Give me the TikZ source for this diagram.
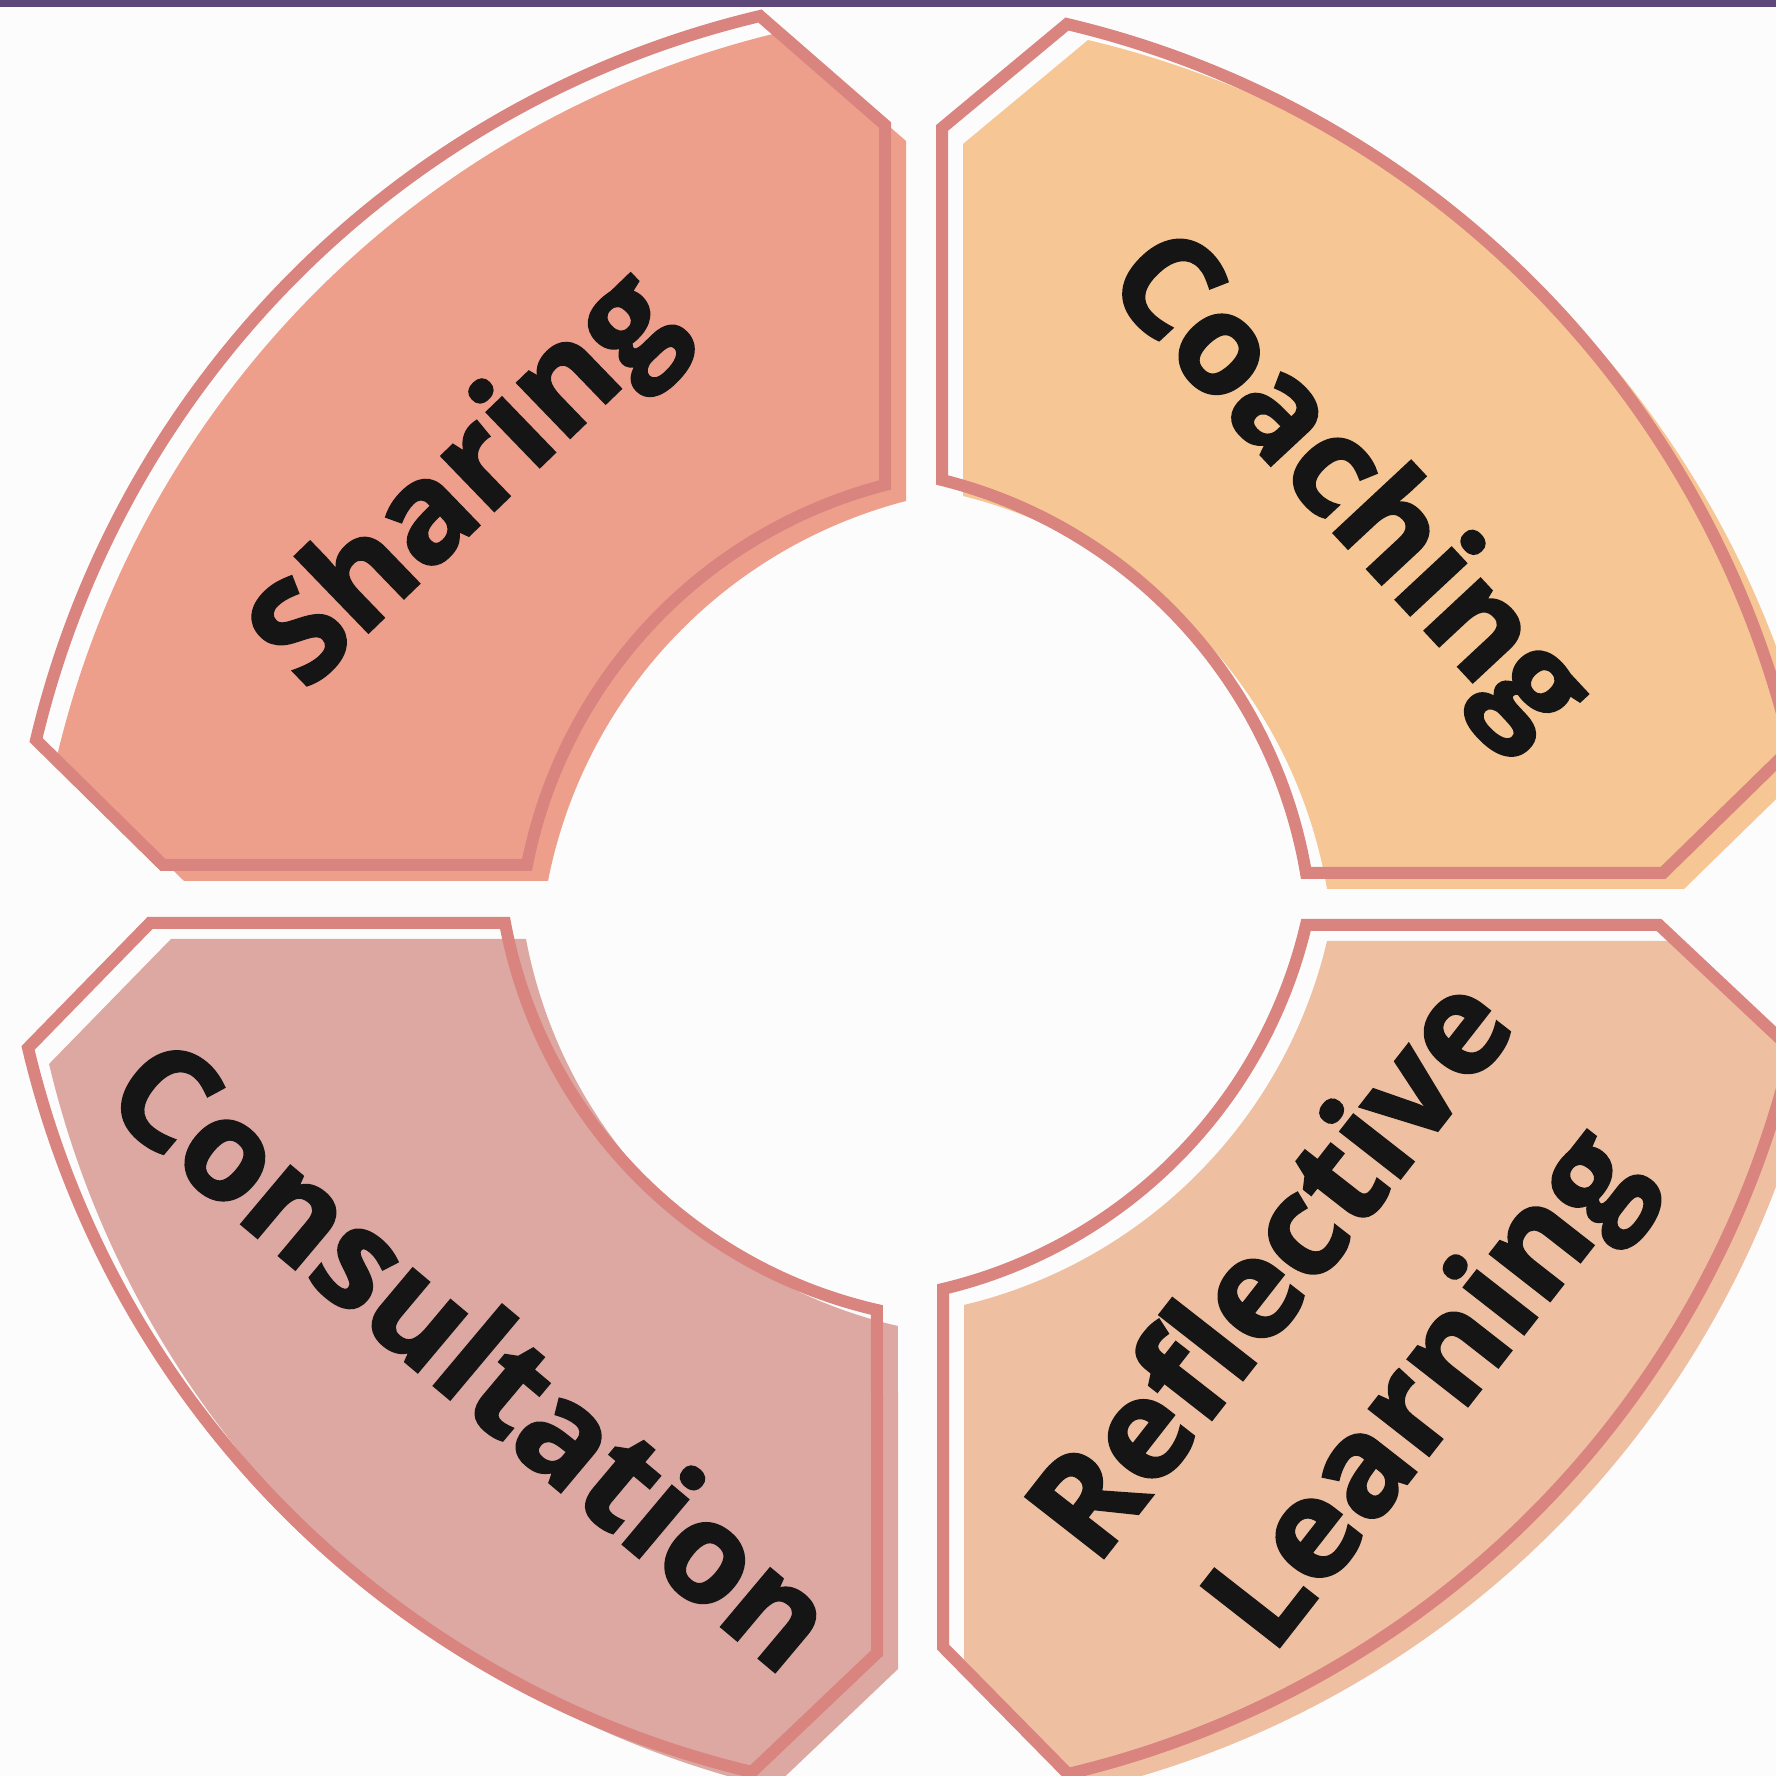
\documentclass[tikz,border=0pt]{standalone}
\usepackage{fontspec}
\setmainfont{Open Sans}[BoldFeatures={FakeBold=2}]
\definecolor{bgcol}{HTML}{FCFCFC}
\definecolor{barcol}{HTML}{5E4779}
\definecolor{strokecol}{HTML}{D9847F}
\definecolor{sharefill}{HTML}{EE9F8C}
\definecolor{coachfill}{HTML}{F6C695}
\definecolor{consfill}{HTML}{DCA8A1}
\definecolor{reflfill}{HTML}{EFBFA1}
\definecolor{textcol}{HTML}{151515}
\newcommand\segR{4.9}
% local outline of one segment: #1 inner a, #2 inner b, #3 edge a, #4 edge b
\newcommand\segpath[4]{%
  (0,#4) -- ([shift={(-1,-1)}]76.66:9.753)
  arc[start angle=76.66, end angle=13.34, radius=9.753]
  -- (#3,0) -- (#1,0)
  arc[start angle=\segsa, end angle=\segea, radius=\segR]
  -- cycle}
% #1 Ox, #2 Oy, #3 sx, #4 sy, #5 h, #6 v, #7 La, #8 Lb, #9 fill colour
\newcommand\segment[9]{%
  \pgfmathsetmacro\segcc{sqrt((#5)^2+(#6)^2)}%
  \pgfmathsetmacro\segmm{sqrt(\segR^2-(\segcc/2)^2)}%
  \pgfmathsetmacro\segcx{#5/2-\segmm*#6/\segcc}%
  \pgfmathsetmacro\segcy{#6/2-\segmm*#5/\segcc}%
  \pgfmathsetmacro\segsa{atan2(0-\segcy,#5-\segcx)}%
  \pgfmathsetmacro\segea{atan2(#6-\segcy,0-\segcx)}%
  \begin{scope}[shift={(#1+0.21,#2-0.16)}, xscale=#3, yscale=#4]
    \fill[#9] \segpath{#5}{#6}{#7}{#8};
  \end{scope}
  \begin{scope}[shift={(#1,#2)}, xscale=#3, yscale=#4]
    \draw[segline] \segpath{#5}{#6}{#7}{#8};
  \end{scope}}
\begin{document}
\begin{tikzpicture}[
  segline/.style={draw=strokecol, line width=0.12cm, line join=miter},
  lbl/.style={text=textcol, inner sep=0pt, align=center,
              font=\fontsize{39.5}{55}\selectfont\bfseries}]
\useasboundingbox (0,0) rectangle (17.76,17.76);
\fill[bgcol] (0,0) rectangle (17.76,17.76);
\begin{scope}
  \clip (0,0) rectangle (17.76,17.76);
  \segment{8.85}{9.11}{-1}{1}{3.58}{3.80}{7.22}{7.40}{sharefill}
  \segment{9.42}{9.03}{1}{1}{3.64}{3.93}{7.21}{7.45}{coachfill}
  \segment{8.77}{8.53}{-1}{-1}{3.72}{3.87}{7.27}{7.30}{consfill}
  \segment{9.43}{8.51}{1}{-1}{3.63}{3.64}{7.16}{7.22}{reflfill}
\end{scope}
\fill[barcol] (0,17.69) rectangle (17.76,17.76);
\node[lbl, rotate=44] (sharing) at (4.70,12.92) {Sharing};
\node[lbl, rotate=-47] (coaching) at (13.44,12.85) {Coaching};
\node[lbl, rotate=-40] (consultation) at (4.75,4.24) {Consultation};
\node[lbl, rotate=52] (reflective) at (13.55,4.42) {Reflective\\Learning};
\end{tikzpicture}
\end{document}
